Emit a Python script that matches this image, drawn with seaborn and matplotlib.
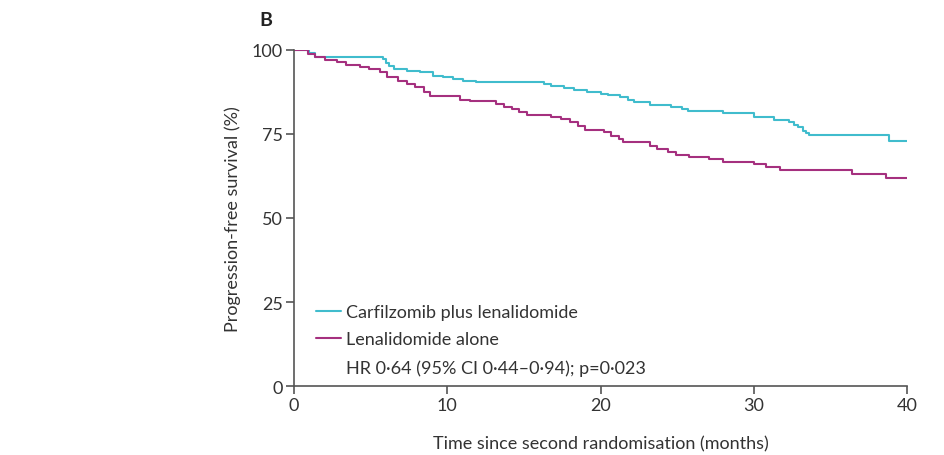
import numpy as np
import pandas as pd
import matplotlib
matplotlib.use("Agg")
import matplotlib.pyplot as plt
from matplotlib.lines import Line2D
import seaborn as sns

# Kaplan-Meier step estimates (months, % progression-free)
kr_time = [0, 1.0, 1.4, 5.8, 6.0, 6.2, 6.5, 7.4, 8.2, 9.1, 9.7, 10.4, 11.0, 11.9,
           16.3, 16.8, 17.6, 18.3, 19.1, 20.0, 20.5, 21.3, 21.8, 22.2, 23.2, 24.6,
           25.3, 25.7, 28.0, 30.0, 31.3, 32.3, 32.6, 32.9, 33.2, 33.4, 33.6, 38.8, 40.0]
kr_surv = [100, 99.2, 98.0, 97.2, 96.2, 95.2, 94.3, 93.8, 93.3, 92.3, 91.9, 91.4, 90.9, 90.4,
           89.9, 89.2, 88.7, 88.0, 87.5, 87.0, 86.6, 85.9, 85.2, 84.5, 83.6, 83.0,
           82.4, 81.8, 81.3, 80.0, 79.3, 78.5, 77.8, 77.0, 76.0, 75.2, 74.6, 73.0, 73.0]

r_time = [0, 0.9, 1.4, 2.0, 2.8, 3.4, 4.3, 4.9, 5.6, 6.1, 6.8, 7.4, 7.9, 8.5, 8.9,
          10.8, 11.5, 13.2, 13.7, 14.2, 14.7, 15.2, 16.8, 17.4, 18.0, 18.5, 19.0,
          20.2, 20.7, 21.2, 21.5, 23.2, 23.7, 24.4, 24.9, 25.8, 27.1, 28.0, 30.0,
          30.8, 31.7, 36.4, 38.6, 40.0]
r_surv = [100, 98.8, 97.9, 97.0, 96.3, 95.6, 95.0, 94.3, 93.3, 91.9, 90.9, 89.9, 88.9,
          87.4, 86.4, 85.1, 84.7, 83.9, 82.9, 82.4, 81.5, 80.7, 80.0, 79.5, 78.5,
          77.5, 76.2, 75.5, 74.3, 73.5, 72.5, 71.5, 70.5, 69.7, 68.8, 68.1, 67.6,
          66.8, 66.1, 65.3, 64.4, 63.1, 62.0, 62.0]

arm_names = ["Carfilzomib plus lenalidomide", "Lenalidomide alone"]
arm_colors = ["#40bccd", "#a5307f"]
hr_text = "HR 0\u00b764 (95% CI 0\u00b744\u20130\u00b794); p=0\u00b7023"
x_ticks = [0, 10, 20, 30, 40]
y_ticks = [0, 25, 50, 75, 100]

df = pd.concat([
    pd.DataFrame({"time": kr_time, "surv": kr_surv, "arm": arm_names[0]}),
    pd.DataFrame({"time": r_time, "surv": r_surv, "arm": arm_names[1]}),
], ignore_index=True)

sns.set_style("white")
plt.rcParams["font.family"] = ["Lato", "DejaVu Sans"]
axis_grey = "#555555"
text_col = "#333333"
fs = 13

fig = plt.figure(figsize=(9.45, 4.56), dpi=100)
ax = fig.add_axes([0.3111, 0.1513, 0.6487, 0.7369])

sns.lineplot(data=df, x="time", y="surv", hue="arm", palette=dict(zip(arm_names, arm_colors)),
             drawstyle="steps-post", estimator=None, sort=False, linewidth=1.5,
             legend=False, ax=ax)

ax.set_xlim(0, 40)
ax.set_ylim(0, 100)
ax.set_xticks(x_ticks)
ax.set_yticks(y_ticks)
for s in ["top", "right"]:
    ax.spines[s].set_visible(False)
for s in ["left", "bottom"]:
    ax.spines[s].set_color(axis_grey)
    ax.spines[s].set_linewidth(1.2)
ax.tick_params(axis="both", direction="out", length=6, width=1.2, color=axis_grey,
               labelsize=fs, labelcolor=text_col, pad=2, left=True, bottom=True)
ax.set_xlabel("Time since second randomisation (months)", fontsize=fs, color=text_col, labelpad=16)
ax.set_ylabel("Progression-free survival (%)", fontsize=fs, color=text_col, labelpad=8)

handles = [Line2D([], [], color=c, lw=1.5) for c in arm_colors]
handles.append(Line2D([], [], color="none"))
leg = ax.legend(handles, arm_names + [hr_text], loc="upper left", bbox_to_anchor=(0.024, 0.266),
                frameon=False, fontsize=fs, handlelength=1.4, handletextpad=0.25,
                labelspacing=0.64, borderaxespad=0)
for t in leg.get_texts():
    t.set_color(text_col)

fig.text(266 / 945, 1 - 20 / 456, "B", fontsize=14, fontweight="bold", color="#222222",
         ha="center", va="center")

fig.savefig("out.png", dpi=100, facecolor="white")
